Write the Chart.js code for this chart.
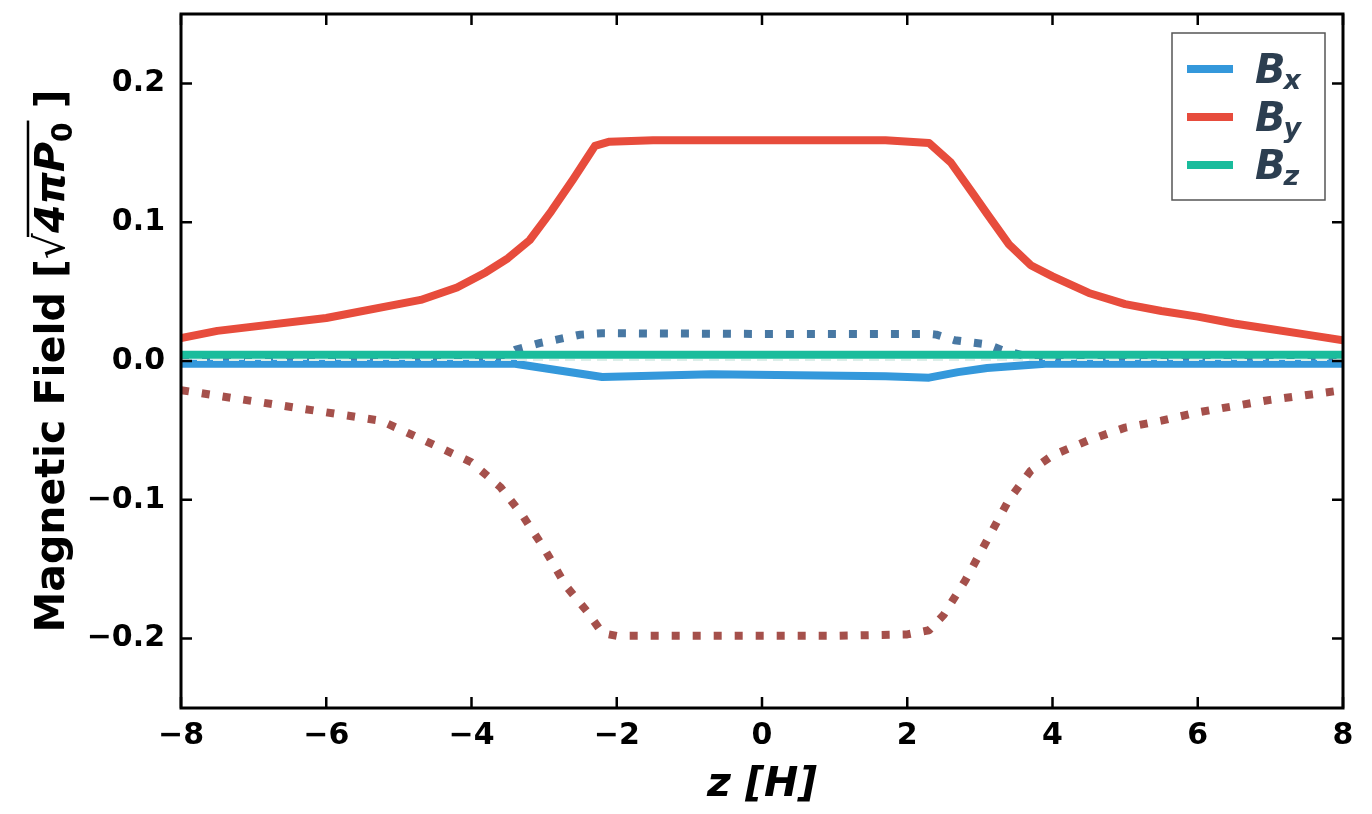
<!DOCTYPE html>
<html>
<head>
<meta charset="utf-8">
<script src="https://cdn.jsdelivr.net/npm/chart.js@4.4.1/dist/chart.umd.min.js"></script>
<style>
  html, body { margin: 0; padding: 0; background: #fff; }
  #wrap { width: 1372px; height: 814px; }
</style>
</head>
<body>
<div id="wrap"><canvas id="bfield"></canvas></div>
<script>
// z positions [H] and field values
const zBy = [-8, -7.5, -6, -4.7, -4.2, -3.8, -3.5, -3.2, -2.9, -2.6, -2.4, -2.3, -2.1, -1.5, 0, 1.7, 2.3, 2.6, 2.9, 3.1, 3.4, 3.7, 4.0, 4.5, 5, 5.5, 6, 6.5, 7, 7.5, 8];
const byVals = [0.0166, 0.0217, 0.031, 0.044, 0.053, 0.064, 0.074, 0.087, 0.108, 0.131, 0.147, 0.155, 0.158, 0.159, 0.159, 0.159, 0.157, 0.143, 0.121, 0.106, 0.084, 0.069, 0.061, 0.049, 0.041, 0.036, 0.032, 0.027, 0.023, 0.019, 0.015];

const zBx = [-8, -6, -3.4, -2.2, -0.7, 1.7, 2.3, 2.7, 3.1, 3.9, 6, 8];
const bxVals = [-0.002, -0.002, -0.002, -0.0115, -0.0095, -0.011, -0.012, -0.008, -0.005, -0.002, -0.002, -0.002];

const zBz = [-8, 0, 8];
const bzVals = [0.0045, 0.0045, 0.0045];

// dotted profiles (second state)
const zBy2 = [-8, -7, -6, -5.25, -4.7, -4, -3.6, -3.3, -3, -2.7, -2.4, -2.2, -2, 0, 1, 2, 2.3, 2.5, 2.8, 3.1, 3.4, 3.7, 4, 4.5, 5, 5.5, 6, 7, 8];
const by2Vals = [-0.021, -0.029, -0.037, -0.043, -0.056, -0.073, -0.091, -0.111, -0.135, -0.162, -0.181, -0.196, -0.198, -0.198, -0.198, -0.197, -0.194, -0.183, -0.158, -0.129, -0.100, -0.079, -0.068, -0.057, -0.048, -0.043, -0.037, -0.028, -0.021];

const zBx2 = [-8, -3.6, -3.4, -3.05, -2.5, -2.2, 0, 2.3, 2.4, 2.65, 3.1, 3.3, 3.6, 4, 8];
const bx2Vals = [0.0, 0.002, 0.008, 0.013, 0.019, 0.020, 0.0195, 0.0195, 0.019, 0.015, 0.012, 0.008, 0.004, 0.0, 0.0];

const zBz2 = [-8, 8];
const bz2Vals = [0.0008, 0.0008];

const xTicks = [-8, -6, -4, -2, 0, 2, 4, 6, 8];
const yTicks = [-0.2, -0.1, 0.0, 0.1, 0.2];

const legendItems = [
  { sub: 'x', color: '#3498db' },
  { sub: 'y', color: '#e74c3c' },
  { sub: 'z', color: '#1abc9c' }
];

function pts(xs, ys) {
  return xs.map((x, i) => ({ x: x, y: ys[i] }));
}

function fmtMinus(s) { return String(s).replace('-', '\u2212'); }

const framePlugin = {
  id: 'frame',
  afterDraw(chart) {
    const ctx = chart.ctx;
    const a = chart.chartArea;
    const xs = chart.scales.x, ys = chart.scales.y;
    ctx.save();
    // frame
    ctx.strokeStyle = '#000';
    ctx.lineWidth = 3;
    ctx.strokeRect(a.left, a.top, a.right - a.left, a.bottom - a.top);
    // inward ticks on all sides
    ctx.lineWidth = 2.5;
    const tl = 11;
    ctx.beginPath();
    xTicks.forEach(v => {
      const px = xs.getPixelForValue(v);
      ctx.moveTo(px, a.bottom); ctx.lineTo(px, a.bottom - tl);
      ctx.moveTo(px, a.top); ctx.lineTo(px, a.top + tl);
    });
    yTicks.forEach(v => {
      const py = ys.getPixelForValue(v);
      ctx.moveTo(a.left, py); ctx.lineTo(a.left + tl, py);
      ctx.moveTo(a.right, py); ctx.lineTo(a.right - tl, py);
    });
    ctx.stroke();

    // legend
    const lx = 1172, ly = 33, lw = 153, lh = 167;
    ctx.fillStyle = 'rgba(255,255,255,0.85)';
    ctx.fillRect(lx, ly, lw, lh);
    ctx.strokeStyle = '#555';
    ctx.lineWidth = 1.5;
    ctx.strokeRect(lx, ly, lw, lh);
    legendItems.forEach((it, i) => {
      const cy = 69 + i * 48;
      ctx.strokeStyle = it.color;
      ctx.lineWidth = 8;
      ctx.lineCap = 'butt';
      ctx.beginPath();
      ctx.moveTo(1187, cy); ctx.lineTo(1233, cy);
      ctx.stroke();
      ctx.fillStyle = '#2c3e50';
      ctx.textBaseline = 'alphabetic';
      ctx.textAlign = 'left';
      ctx.font = 'italic bold 40px "DejaVu Sans"';
      ctx.fillText('B', 1255, cy + 14);
      const bw = ctx.measureText('B').width;
      ctx.font = 'italic bold 27px "DejaVu Sans"';
      ctx.fillText(it.sub, 1255 + bw - 2, cy + 20);
    });

    // y axis title, rotated, with square-root overline
    ctx.save();
    ctx.translate(64, 361);
    ctx.rotate(-Math.PI / 2);
    ctx.fillStyle = '#000';
    ctx.textBaseline = 'alphabetic';
    ctx.textAlign = 'left';
    const parts = [
      { t: 'Magnetic Field [', f: 'bold 41px "DejaVu Sans"', dy: 0 },
      { t: '\u221A', f: '41px "DejaVu Sans"', dy: 0 },
      { t: '4\u03C0P', f: 'italic bold 41px "DejaVu Sans"', dy: 0, over: true },
      { t: '0', f: 'bold 28px "DejaVu Sans"', dy: 8, over: true },
      { t: ' ]', f: 'bold 41px "DejaVu Sans"', dy: 0 }
    ];
    let total = 0;
    parts.forEach(p => { ctx.font = p.f; p.w = ctx.measureText(p.t).width; total += p.w; });
    let cx = -total / 2;
    let oStart = null, oEnd = null;
    parts.forEach(p => {
      ctx.font = p.f;
      ctx.fillText(p.t, cx, p.dy);
      if (p.over) { if (oStart === null) oStart = cx; oEnd = cx + p.w; }
      cx += p.w;
    });
    ctx.lineWidth = 2.5;
    ctx.strokeStyle = '#000';
    ctx.beginPath();
    ctx.moveTo(oStart - 4, -36); ctx.lineTo(oEnd + 2, -36);
    ctx.stroke();
    ctx.restore();

    ctx.restore();
  }
};

new Chart(document.getElementById('bfield'), {
  type: 'line',
  data: {
    datasets: [
      { label: 'Bx2', data: pts(zBx2, bx2Vals), borderColor: '#4878a3', borderWidth: 8, borderDash: [8, 13], order: 6 },
      { label: 'By2', data: pts(zBy2, by2Vals), borderColor: '#a5504b', borderWidth: 8, borderDash: [8, 13], order: 5 },
      { label: 'Bx', data: pts(zBx, bxVals), borderColor: '#3498db', borderWidth: 8, order: 4 },
      { label: 'By', data: pts(zBy, byVals), borderColor: '#e74c3c', borderWidth: 8, order: 3 },
      { label: 'Bz', data: pts(zBz, bzVals), borderColor: '#1abc9c', borderWidth: 8, order: 2 },
      { label: 'Bz2', data: pts(zBz2, bz2Vals), borderColor: '#dceee9', borderWidth: 2, borderDash: [10, 6], order: 1 }
    ]
  },
  options: {
    responsive: true,
    maintainAspectRatio: false,
    animation: false,
    layout: { padding: { top: 14, right: 29, left: 0, bottom: 0 } },
    elements: {
      point: { radius: 0 },
      line: { tension: 0, borderCapStyle: 'butt', borderJoinStyle: 'round' }
    },
    plugins: {
      legend: { display: false },
      tooltip: { enabled: false }
    },
    scales: {
      x: {
        type: 'linear',
        min: -8, max: 8,
        afterBuildTicks: s => { s.ticks = xTicks.map(v => ({ value: v })); },
        afterFit: s => { s.height = 106; s.paddingLeft = 0; s.paddingRight = 0; },
        grid: { display: false, drawTicks: false },
        border: { display: false },
        ticks: {
          color: '#000',
          padding: 10,
          font: { family: 'DejaVu Sans', size: 30, weight: 'bold' },
          callback: v => fmtMinus(v)
        },
        title: {
          display: true,
          text: 'z [H]',
          color: '#000',
          padding: { top: 0 },
          font: { family: 'DejaVu Sans', size: 41, weight: 'bold', style: 'italic' }
        }
      },
      y: {
        type: 'linear',
        min: -0.25, max: 0.25,
        afterBuildTicks: s => { s.ticks = yTicks.map(v => ({ value: v })); },
        afterFit: s => { s.width = 181; s.paddingTop = 0; s.paddingBottom = 0; },
        grid: { display: false, drawTicks: false },
        border: { display: false },
        ticks: {
          color: '#000',
          padding: 16,
          font: { family: 'DejaVu Sans', size: 30, weight: 'bold' },
          callback: v => fmtMinus(v.toFixed(1))
        }
      }
    }
  },
  plugins: [framePlugin]
});
</script>
</body>
</html>
